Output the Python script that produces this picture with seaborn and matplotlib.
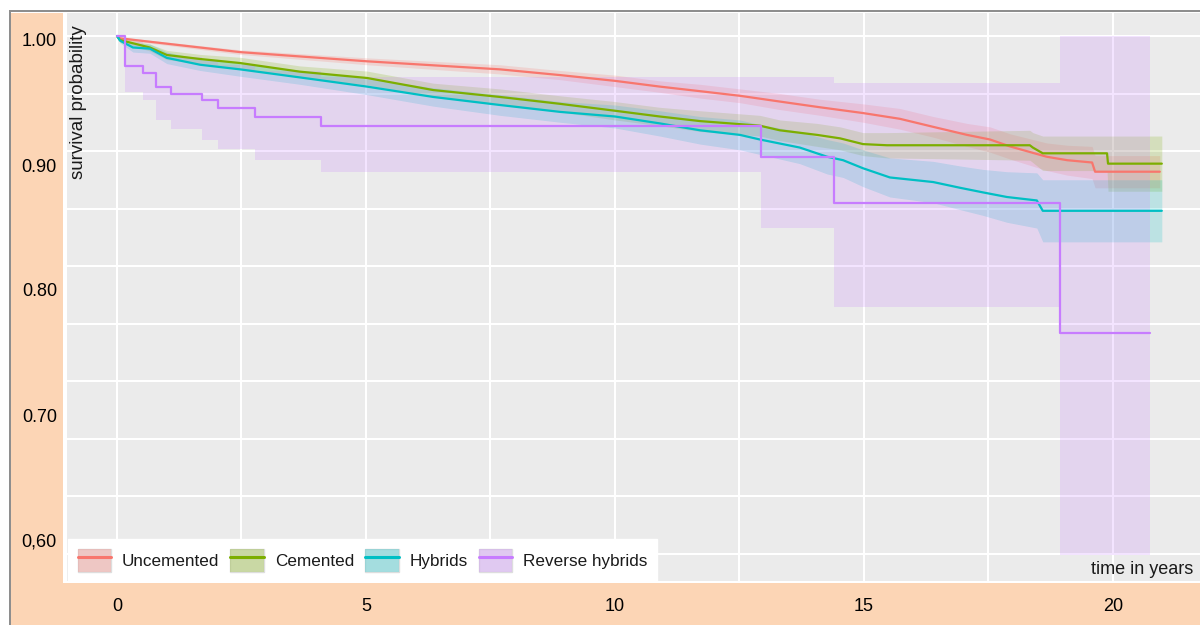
import numpy as np
import pandas as pd
import matplotlib
matplotlib.use("Agg")
import matplotlib.pyplot as plt
import seaborn as sns
from matplotlib.patches import Rectangle, Patch
from matplotlib.lines import Line2D
from matplotlib.legend_handler import HandlerTuple

# ---------------- data ----------------
groups = ["Uncemented", "Cemented", "Hybrids", "Reverse hybrids"]
colors = ["#F8766D", "#7CAE00", "#00BFC4", "#C77CFF"]

t_unc = [0, 0.06, 2.47, 5.02, 7.69, 8.90, 10.0, 10.9, 11.71, 12.51, 13.31, 14.12,
         14.98, 15.72, 16.39, 17.07, 17.53, 17.93, 18.67, 19.08, 19.58, 19.64, 20.94]
s_unc = [1.0, 0.998, 0.986, 0.978, 0.971, 0.966, 0.961, 0.956, 0.952, 0.948, 0.943, 0.938,
         0.933, 0.928, 0.921, 0.914, 0.910, 0.904, 0.895, 0.892, 0.890, 0.882, 0.882]
lo_unc = [1.0, 0.997, 0.984, 0.975, 0.967, 0.962, 0.956, 0.951, 0.946, 0.942, 0.936, 0.931,
          0.925, 0.919, 0.912, 0.904, 0.899, 0.893, 0.883, 0.879, 0.876, 0.868, 0.868]
hi_unc = [1.0, 0.999, 0.988, 0.981, 0.975, 0.970, 0.966, 0.961, 0.958, 0.954, 0.950, 0.945,
          0.941, 0.937, 0.930, 0.924, 0.921, 0.915, 0.907, 0.905, 0.904, 0.896, 0.896]

t_cem = [0, 0.06, 0.66, 1.00, 1.67, 2.47, 3.67, 5.02, 6.35, 7.69, 8.90, 10.0, 10.9,
         11.71, 12.91, 13.31, 14.06, 14.52, 14.98, 15.46, 18.33, 18.39, 18.59, 19.88, 19.90, 20.98]
s_cem = [1.0, 0.9965, 0.990, 0.9835, 0.980, 0.9765, 0.969, 0.9635, 0.953, 0.947, 0.941, 0.935, 0.930,
         0.926, 0.922, 0.918, 0.914, 0.911, 0.906, 0.905, 0.905, 0.903, 0.898, 0.898, 0.889, 0.889]
lo_cem = [1.0, 0.9945, 0.987, 0.9795, 0.976, 0.9715, 0.964, 0.9575, 0.947, 0.940, 0.934, 0.927, 0.922,
          0.917, 0.913, 0.909, 0.904, 0.901, 0.896, 0.894, 0.892, 0.890, 0.883, 0.883, 0.865, 0.865]
hi_cem = [1.0, 0.9985, 0.993, 0.9875, 0.984, 0.9815, 0.974, 0.9695, 0.959, 0.954, 0.948, 0.943, 0.938,
          0.935, 0.931, 0.927, 0.924, 0.921, 0.916, 0.916, 0.918, 0.916, 0.913, 0.913, 0.913, 0.913]

t_hyb = [0, 0.06, 0.32, 0.66, 1.00, 1.67, 2.47, 3.67, 5.02, 6.35, 7.69, 8.90, 10.0, 10.9,
         11.71, 12.51, 12.91, 13.71, 14.26, 14.58, 14.98, 15.52, 16.39, 16.93, 17.39, 17.87,
         18.47, 18.59, 20.98]
s_hyb = [1.0, 0.996, 0.990, 0.989, 0.981, 0.975, 0.971, 0.964, 0.956, 0.947, 0.940, 0.934, 0.930, 0.924,
         0.918, 0.914, 0.910, 0.903, 0.895, 0.892, 0.885, 0.877, 0.873, 0.868, 0.864, 0.860,
         0.857, 0.848, 0.848]
lo_hyb = [1.0, 0.994, 0.986, 0.985, 0.976, 0.970, 0.965, 0.958, 0.949, 0.939, 0.931, 0.925, 0.920, 0.913,
          0.906, 0.901, 0.897, 0.889, 0.880, 0.877, 0.869, 0.860, 0.855, 0.849, 0.844, 0.838,
          0.833, 0.821, 0.821]
hi_hyb = [1.0, 0.998, 0.994, 0.993, 0.986, 0.980, 0.977, 0.970, 0.963, 0.955, 0.949, 0.943, 0.940, 0.935,
          0.930, 0.927, 0.923, 0.917, 0.910, 0.907, 0.901, 0.894, 0.891, 0.887, 0.884, 0.882,
          0.881, 0.875, 0.875]

t_rev = [0, 0.16, 0.52, 0.78, 1.08, 1.71, 2.03, 2.77, 4.10, 12.93, 14.40, 18.94, 20.74]
s_rev = [1.0, 0.974, 0.968, 0.956, 0.950, 0.944, 0.937, 0.930, 0.922, 0.895, 0.855, 0.742, 0.742]
lo_rev = [1.0, 0.951, 0.944, 0.927, 0.919, 0.910, 0.902, 0.892, 0.882, 0.833, 0.764, 0.549, 0.549]
hi_rev = [1.0, 0.995, 0.990, 0.985, 0.982, 0.978, 0.975, 0.970, 0.964, 0.964, 0.959, 1.0, 1.0]

x_ticks = [0, 5, 10, 15, 20]
x_minor = [2.5, 7.5, 12.5, 17.5]
y_grid = [0.55, 0.60, 0.65, 0.70, 0.75, 0.80, 0.85, 0.90, 0.95, 1.00]
y_label_vals = [1.0, 0.9, 0.8, 0.7, 0.6]
y_labels = ["1.00", "0.90", "0.80", "0.70", "0,60"]

# ---------------- style ----------------
sns.set_theme(style="darkgrid")
plt.rcParams["font.family"] = ["Liberation Sans", "DejaVu Sans"]

W, H = 1200, 625
fig = plt.figure(figsize=(12, 6.25), dpi=100, facecolor="white")

def fx(px):
    return px / W

def fy(py):
    return 1 - py / H

peach = "#FCD5B5"
frame = "#8E8E8E"
# background decorations (drawn beneath the axes)
fig.patches.append(Rectangle((fx(11), fy(625)), (63 - 11) / W, (625 - 13) / H,
                             transform=fig.transFigure, fc=peach, ec="none", zorder=-10))
fig.patches.append(Rectangle((fx(11), fy(625)), (1200 - 11) / W, (625 - 583) / H,
                             transform=fig.transFigure, fc=peach, ec="none", zorder=-10))
fig.patches.append(Rectangle((fx(9), fy(12)), (1200 - 9) / W, 2 / H,
                             transform=fig.transFigure, fc=frame, ec="none", zorder=-10))
fig.patches.append(Rectangle((fx(9), fy(625)), 2 / W, (625 - 10) / H,
                             transform=fig.transFigure, fc=frame, ec="none", zorder=-10))

# main panel
ax = fig.add_axes([fx(67), fy(581), (1200 - 67) / W, (581 - 13) / H])
ax.set_facecolor("#EBEBEB")
for sp in ax.spines.values():
    sp.set_visible(False)

band_alpha = 0.2
ax.fill_between(t_unc, lo_unc, hi_unc, color=colors[0], alpha=band_alpha, lw=0, zorder=1)
ax.fill_between(t_cem, lo_cem, hi_cem, color=colors[1], alpha=band_alpha, lw=0, zorder=1)
ax.fill_between(t_hyb, lo_hyb, hi_hyb, color=colors[2], alpha=band_alpha, lw=0, zorder=1)
ax.fill_between(t_rev, lo_rev, hi_rev, color=colors[3], alpha=band_alpha, lw=0,
                step="post", zorder=1)

df = pd.concat([
    pd.DataFrame({"time": t_unc, "surv": s_unc, "group": groups[0]}),
    pd.DataFrame({"time": t_cem, "surv": s_cem, "group": groups[1]}),
    pd.DataFrame({"time": t_hyb, "surv": s_hyb, "group": groups[2]}),
], ignore_index=True)

sns.lineplot(data=df, x="time", y="surv", hue="group", hue_order=groups[:3],
             palette=colors[:3], estimator=None, sort=False, linewidth=1.6,
             legend=False, ax=ax, zorder=3)
sns.lineplot(x=t_rev, y=s_rev, color=colors[3], estimator=None, sort=False,
             drawstyle="steps-post", linewidth=1.6, legend=False, ax=ax, zorder=4)

ax.set_xlim(-1.004, 21.747)
ax.set_ylim(0.5261, 1.02)
ax.set_xticks(x_ticks)
ax.set_xticklabels([str(v) for v in x_ticks])
ax.set_xticks(x_minor, minor=True)
ax.set_yticks(y_grid)
ax.grid(True, which="both", color="white", linewidth=1.5)
ax.set_axisbelow(True)
ax.tick_params(axis="x", which="both", length=0, pad=12.5, labelsize=13, labelcolor="black")
ax.tick_params(axis="y", which="both", length=0, labelleft=False)

ax.set_xlabel("time in years", fontsize=13, ha="right", va="center", color="#1a1a1a")
ax.xaxis.set_label_coords(0.9938, 0.0202)
ax.set_ylabel("survival probability", fontsize=13.5, va="center", color="#1a1a1a")
ax.yaxis.set_label_coords(0.0101, 0.843)

# legend
handles = [
    (Patch(fc="#EBEBEB", ec="#DDDDDD"), Patch(fc=c, alpha=0.3, ec="none"),
     Line2D([], [], color=c, lw=2.2))
    for c in colors
]
leg = ax.legend(handles, groups, handler_map={tuple: HandlerTuple(ndivide=1)},
                ncol=4, loc="lower left", bbox_to_anchor=(0.001, 0.0),
                fontsize=12.3, handlelength=1.95, handleheight=1.7,
                handletextpad=0.65, columnspacing=0.65, borderpad=0.55,
                borderaxespad=0, fancybox=False, framealpha=1,
                facecolor="white", edgecolor="white")
leg.set_zorder(10)
for txt in leg.get_texts():
    txt.set_color("#1a1a1a")

# y tick labels axis (peach band)
lab = fig.add_axes([fx(57), fy(581), 6 / W, (581 - 13) / H])
lab.set_facecolor("none")
for sp in lab.spines.values():
    sp.set_visible(False)
lab.grid(False)
lab.set_ylim(0.5672, 1.0216)
lab.set_yticks(y_label_vals)
lab.set_yticklabels(y_labels)
lab.set_xticks([])
lab.tick_params(axis="y", length=0, pad=0, labelsize=13, labelcolor="black")

fig.savefig("out.png", dpi=100)
